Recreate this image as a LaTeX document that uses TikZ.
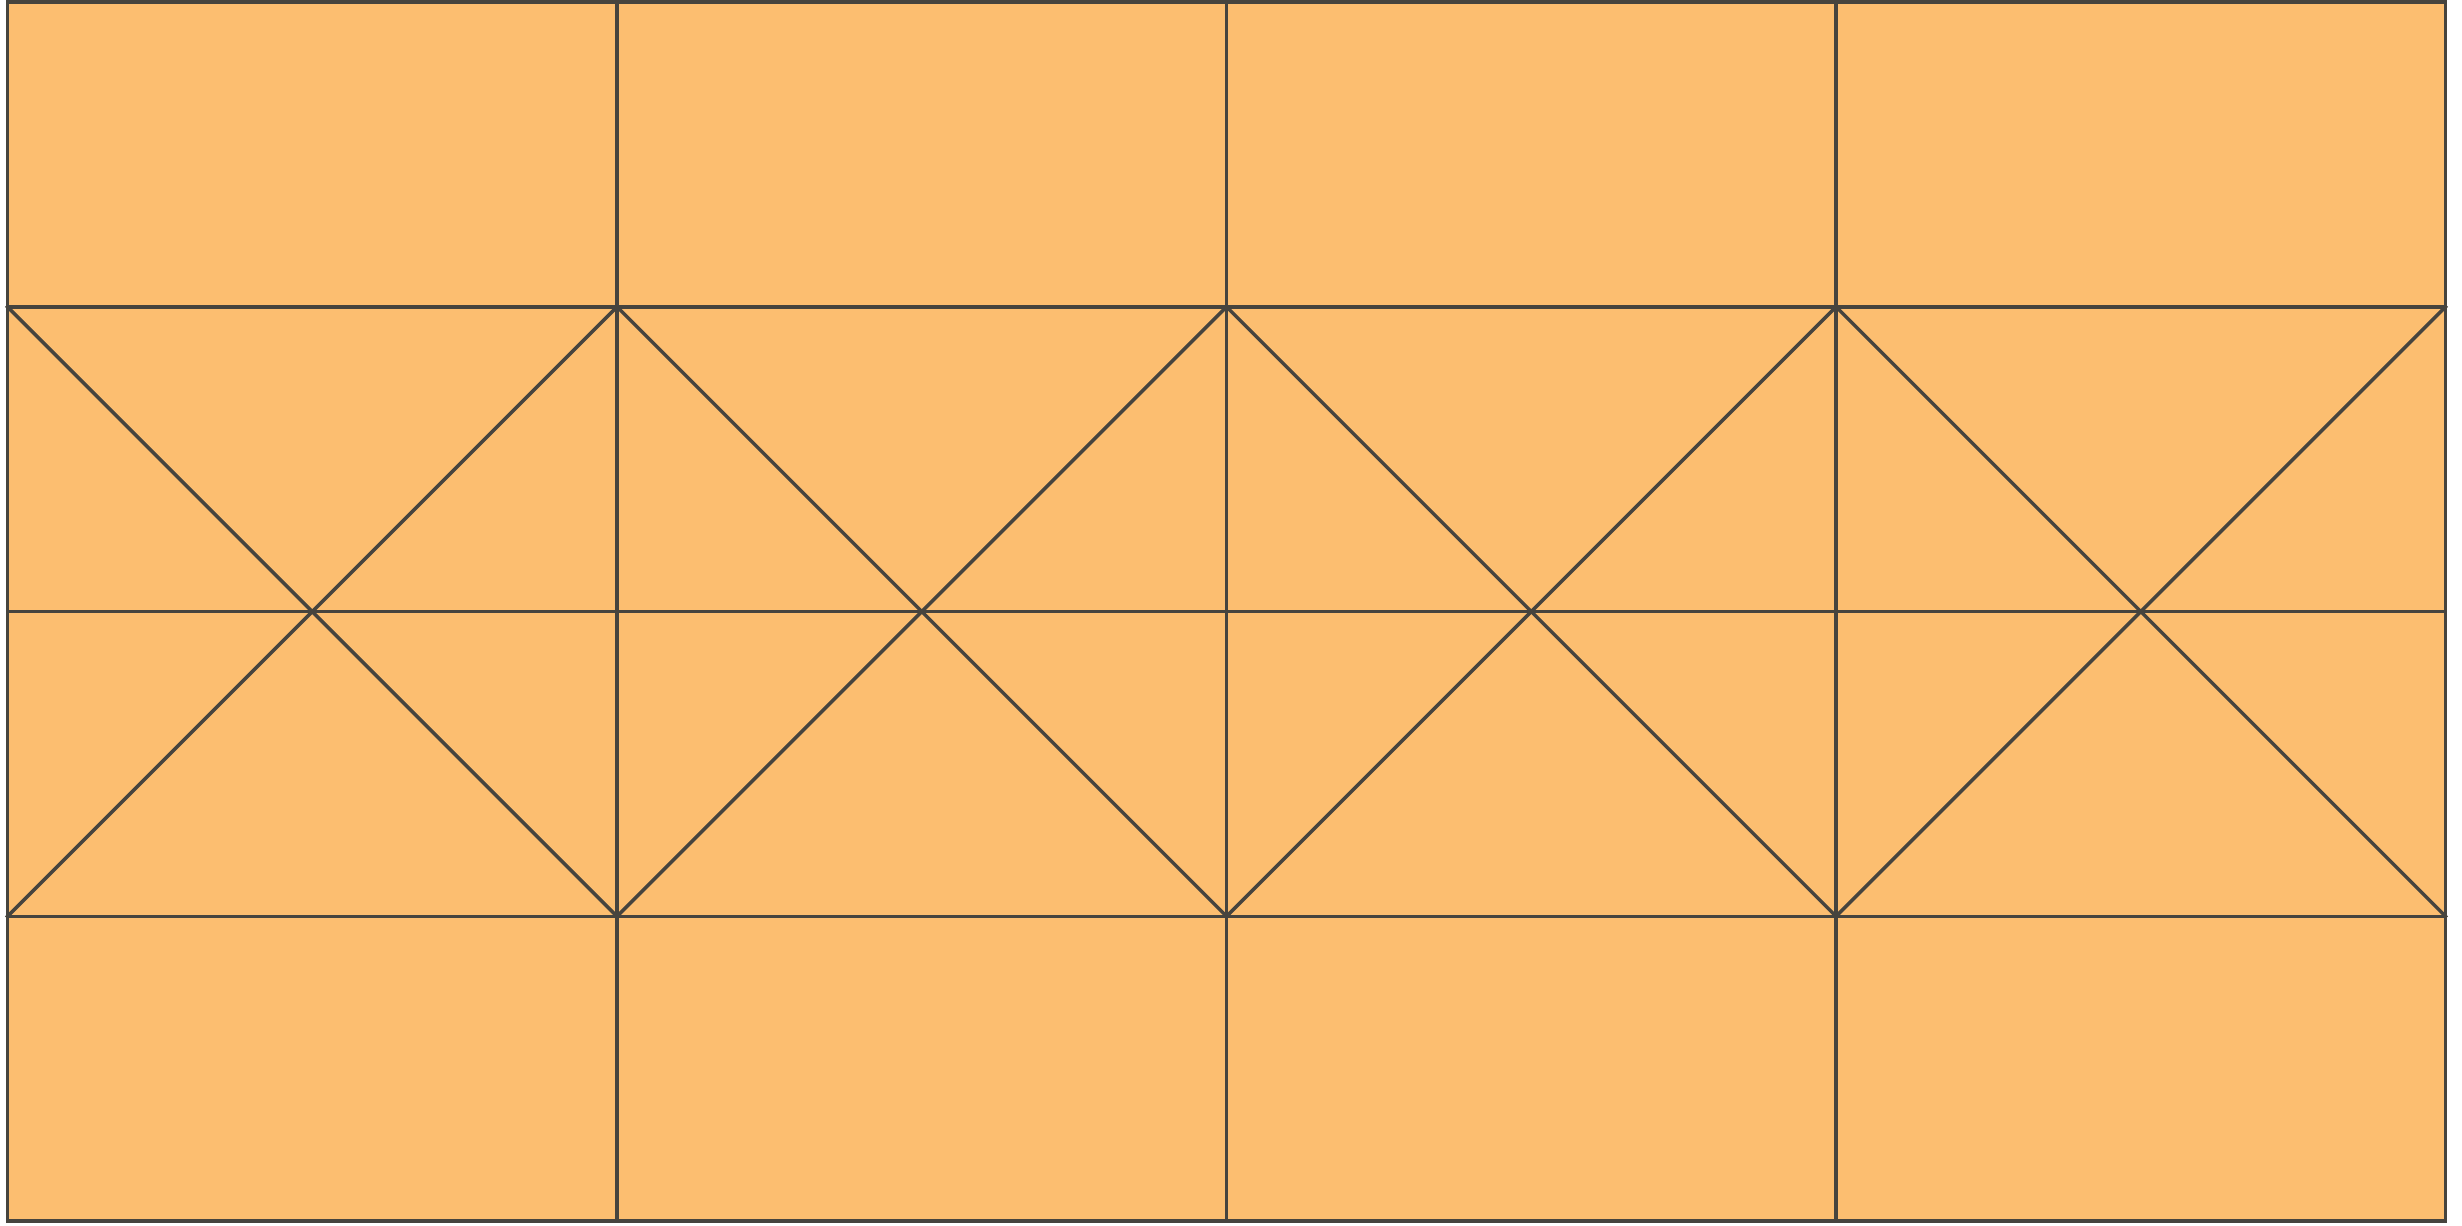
\documentclass[tikz,border=0pt]{standalone}
\usepackage{tikz}
\definecolor{tileorange}{RGB}{252,190,112}
\definecolor{tileline}{RGB}{70,68,62}
\tikzset{tile/.style={draw=tileline,line width=1pt,line cap=rect}}

\begin{document}
\begin{tikzpicture}[x=6.095cm,y=3.0475cm]
  \useasboundingbox (-0.0123,-0.0131) rectangle (4.0271,4.0066);
  \fill[tileorange] (0,0) rectangle (4,4);
  % grid lines
  \foreach \i in {0,...,4}
    \draw[tile] (\i,0) -- (\i,4);
  \foreach \j in {0,...,4}
    \draw[tile] (0,\j) -- (4,\j);
  % crosses over the two middle rows
  \foreach \i [evaluate=\i as \k using int(\i+1)] in {0,...,3} {
    \draw[tile] (\i,3) -- (\k,1);
    \draw[tile] (\k,3) -- (\i,1);
  }
\end{tikzpicture}
\end{document}
